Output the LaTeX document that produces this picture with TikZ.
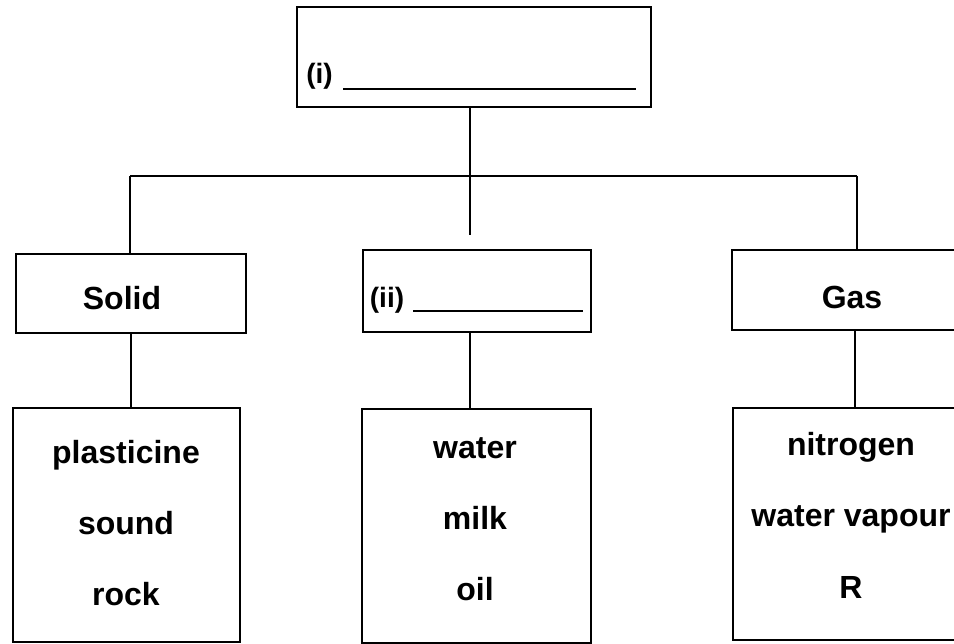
\documentclass[tikz,border=0pt]{standalone}
\usepackage{fontspec}
\setmainfont{Liberation Sans}
\begin{document}
\begin{tikzpicture}[x=1pt,y=-1pt,
  box/.style={draw,line width=2.4pt,inner sep=0pt},
  lbl/.style={font=\fontsize{32}{38}\selectfont\bfseries,anchor=base,inner sep=0pt},
  num/.style={font=\fontsize{28}{33}\selectfont\bfseries,anchor=base,inner sep=0pt},
  conn/.style={line width=2.4pt},
  blank/.style={line width=2pt}]
\useasboundingbox (0,0) rectangle (954,644);
\clip (0,0) rectangle (954,644);
\fill[white] (0,0) rectangle (954,644);
% boxes
\node[box,minimum width=354pt,minimum height=100pt] (top) at (474,57) {};
\node[box,minimum width=230pt,minimum height=79pt] (solid) at (131,293.5) {};
\node[box,minimum width=228pt,minimum height=82pt] (mid) at (477,291) {};
\node[box,minimum width=248pt,minimum height=80pt] (gas) at (856,290) {};
\node[box,minimum width=227pt,minimum height=234pt] (bl) at (126.5,525) {};
\node[box,minimum width=229pt,minimum height=234pt] (bm) at (476.5,526) {};
\node[box,minimum width=247pt,minimum height=232pt] (br) at (856.5,524) {};
% texts
\node[num] (ti) at (319.5,84) {(i)};
\draw[blank] (343,89) -- (636,89);
\node[num] (tii) at (387,308) {(ii)};
\draw[blank] (413,311) -- (583,311);
\node[lbl] (tsolid) at (122,310) {Solid};
\node[lbl] (tgas) at (852,309) {Gas};
\node[lbl] (a1) at (126,464) {plasticine};
\node[lbl] (a2) at (126,534) {sound};
\node[lbl] (a3) at (126,605) {rock};
\node[lbl] (b1) at (475,458) {water};
\node[lbl] (b2) at (475,529) {milk};
\node[lbl] (b3) at (475,600) {oil};
\node[lbl] (c1) at (851,456) {nitrogen};
\node[lbl] (c2) at (851,526) {water vapour};
\node[lbl] (c3) at (851,598) {R};
% connectors
\coordinate (barL) at (130,176);
\coordinate (barR) at (857,176);
\coordinate (midgap) at (470,235);
\draw[conn] (midgap |- top.south) -- (midgap);
\draw[conn] (barL) -- (barR);
\draw[conn] (barL) -- (barL |- solid.north);
\draw[conn] (barR) -- (barR |- gas.north);
\draw[conn] (solid.south) -- (solid.south |- bl.north);
\draw[conn] ([xshift=-7pt]mid.south) -- ([xshift=-7pt]mid.south |- bm.north);
\draw[conn] ([xshift=-1pt]gas.south) -- ([xshift=-1pt]gas.south |- br.north);
\end{tikzpicture}
\end{document}
